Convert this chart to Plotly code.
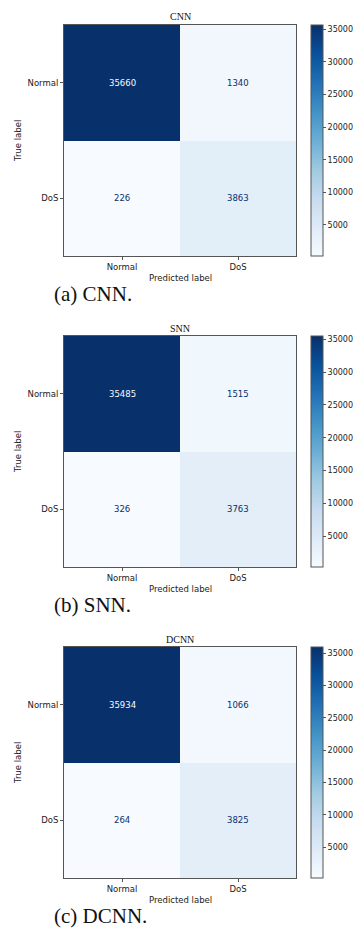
import plotly.graph_objects as go

# Confusion matrices (rows: true label, columns: predicted label)
models = ["CNN", "SNN", "DCNN"]
captions = ["(a) CNN.", "(b) SNN.", "(c) DCNN."]
labels = ["Normal", "DoS"]
cm_cnn = [[35660, 1340], [226, 3863]]
cm_snn = [[35485, 1515], [326, 3763]]
cm_dcnn = [[35934, 1066], [264, 3825]]
matrices = [cm_cnn, cm_snn, cm_dcnn]
cbar_ticks = [5000, 10000, 15000, 20000, 25000, 30000, 35000]

# Layout geometry in pixels
W, H = 357, 933
panel_tops = [25, 336, 647]
plot_h = 231
x_left, x_right = 64, 296
cb_left = 311
cb_thick = 12

BLUE_LIGHT = "#f7fbff"
BLUE_DARK = "#08306b"
SANS = "DejaVu Sans"
SERIF = "Liberation Serif"
TXT = "#222222"


def fy(px):
    return 1 - px / H


def fx(px):
    return px / W


fig = go.Figure()
annotations = []

for i, (name, cap, cm) in enumerate(zip(models, captions, matrices)):
    k = "" if i == 0 else str(i + 1)
    top = panel_tops[i]
    zmin = min(min(r) for r in cm)
    zmax = max(max(r) for r in cm)

    fig.add_trace(go.Heatmap(
        z=cm, x=labels, y=labels,
        xaxis="x" + k, yaxis="y" + k,
        coloraxis="coloraxis" + k,
        hoverinfo="skip",
    ))

    fig.layout["xaxis" + k] = dict(
        domain=[fx(x_left), fx(x_right)], anchor="y" + k,
        showline=True, mirror=True, linecolor="#555", linewidth=1,
        ticks="outside", ticklen=3, tickcolor="#555",
        tickfont=dict(family=SANS, size=8.5, color=TXT),
        showgrid=False, zeroline=False, fixedrange=True,
    )
    fig.layout["yaxis" + k] = dict(
        domain=[fy(top + plot_h), fy(top)], anchor="x" + k,
        autorange="reversed",
        showline=True, mirror=True, linecolor="#555", linewidth=1,
        ticks="outside", ticklen=3, tickcolor="#555",
        tickfont=dict(family=SANS, size=8.5, color=TXT),
        showgrid=False, zeroline=False, fixedrange=True,
    )
    fig.layout["coloraxis" + k] = dict(
        colorscale="Blues", cmin=zmin, cmax=zmax,
        colorbar=dict(
            x=fx(cb_left), xanchor="left", xpad=0,
            y=fy(top), yanchor="top", ypad=0,
            len=plot_h, lenmode="pixels",
            thickness=cb_thick, thicknessmode="pixels",
            outlinewidth=1, outlinecolor="#555",
            tickvals=cbar_ticks, tickformat="d",
            ticks="outside", ticklen=3, tickcolor="#555",
            tickfont=dict(family=SANS, size=8, color=TXT),
        ),
    )

    # Cell counts, light text on dark cells
    thresh = (zmin + zmax) / 2
    for r, tl in enumerate(labels):
        for c, pl in enumerate(labels):
            v = cm[r][c]
            annotations.append(dict(
                x=pl, y=tl, xref="x" + k, yref="y" + k,
                text=str(v), showarrow=False,
                font=dict(family=SANS, size=8.5,
                          color=BLUE_LIGHT if v > thresh else BLUE_DARK),
            ))

    cx = fx((x_left + x_right) / 2)
    annotations += [
        dict(x=cx, y=fy(top - 8), text=name,
             font=dict(family=SERIF, size=10, color="#111")),
        dict(x=cx, y=fy(top + 253), text="Predicted label",
             font=dict(family=SANS, size=8.5, color=TXT)),
        dict(x=fx(18), y=fy(top + 116), text="True label", textangle=-90,
             font=dict(family=SANS, size=8.5, color=TXT)),
        dict(x=fx(52), y=fy(top + 269), xanchor="left", text=cap,
             font=dict(family=SERIF, size=21, color="#111")),
    ]
    for a in annotations[-4:]:
        a.update(xref="paper", yref="paper", showarrow=False, yanchor="middle")
        a.setdefault("xanchor", "center")

fig.update_layout(
    width=W, height=H,
    margin=dict(l=0, r=0, t=0, b=0),
    paper_bgcolor="white", plot_bgcolor="white",
    showlegend=False,
    annotations=annotations,
)

fig.write_html("out.html", config={"displayModeBar": False})
